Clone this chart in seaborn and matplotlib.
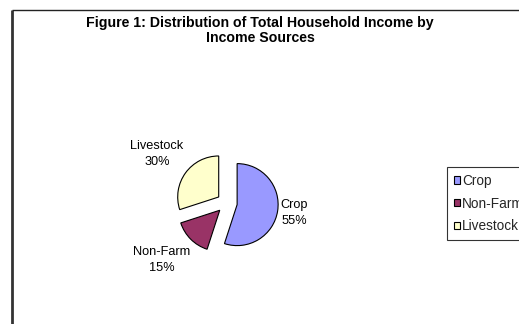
import matplotlib
matplotlib.use("Agg")
import matplotlib.pyplot as plt
import seaborn as sns
from matplotlib.patches import Rectangle
from matplotlib.lines import Line2D

categories = ["Crop", "Non-Farm", "Livestock"]
values = [55, 15, 30]
pct_labels = ["55%", "15%", "30%"]
colors = ["#9999FF", "#993366", "#FFFFCC"]

sns.set_theme(style="white")
plt.rcParams["font.family"] = ["Liberation Sans", "DejaVu Sans"]

W, H = 519, 324
fig = plt.figure(figsize=(W / 100, H / 100), dpi=100)
fig.patch.set_facecolor("white")

# chart-area frame (left and top visible)
fig.add_artist(Line2D([11.5 / W, 11.5 / W], [0, 1 - 9.5 / H], transform=fig.transFigure,
                      color="#333333", lw=2.0, solid_capstyle="butt"))
fig.add_artist(Line2D([11.5 / W, 1.0], [1 - 9.5 / H, 1 - 9.5 / H], transform=fig.transFigure,
                      color="#222222", lw=1.0, solid_capstyle="butt"))

ax = fig.add_axes([0, 0, 1, 1])
R = 41.0  # pixels per unit
cx, cy = 227.0, 203.0

wedges, _ = ax.pie(values, colors=colors, startangle=90, counterclock=False,
                   explode=[0.25, 0.25, 0.25],
                   wedgeprops=dict(edgecolor="black", linewidth=0.8))
ax.set_aspect("auto")
ax.set_xlim(-cx / R, (W - cx) / R)
ax.set_ylim((cy - H) / R, cy / R)
ax.axis("off")

# data labels (pixel positions converted to data units)
label_px = {"Crop": (294, 213), "Non-Farm": (161.5, 260), "Livestock": (157, 154)}
for cat, pct in zip(categories, pct_labels):
    px, py = label_px[cat]
    ax.text((px - cx) / R, (cy - py) / R, f"{cat}\n{pct}", ha="center", va="center",
            fontsize=9.2, color="black", linespacing=1.45)

fig.text(260 / W, 1 - 30.5 / H, "Figure 1: Distribution of Total Household Income by\nIncome Sources",
         ha="center", va="center", fontsize=10.2, fontweight="bold", color="black", linespacing=1.05)

handles = [Rectangle((0, 0), 1, 1, facecolor=c, edgecolor="black", linewidth=0.8) for c in colors]
leg = fig.legend(handles, categories, loc="upper left", bbox_to_anchor=(447 / W, 1 - 167 / H),
                 bbox_transform=fig.transFigure, borderaxespad=0, frameon=True, fancybox=False,
                 fontsize=9.8, handlelength=0.45, handleheight=0.45, handletextpad=0.15,
                 labelspacing=0.64, borderpad=0.5)
leg.get_frame().set_edgecolor("black")
leg.get_frame().set_linewidth(0.8)

fig.savefig("out.png", dpi=100)
